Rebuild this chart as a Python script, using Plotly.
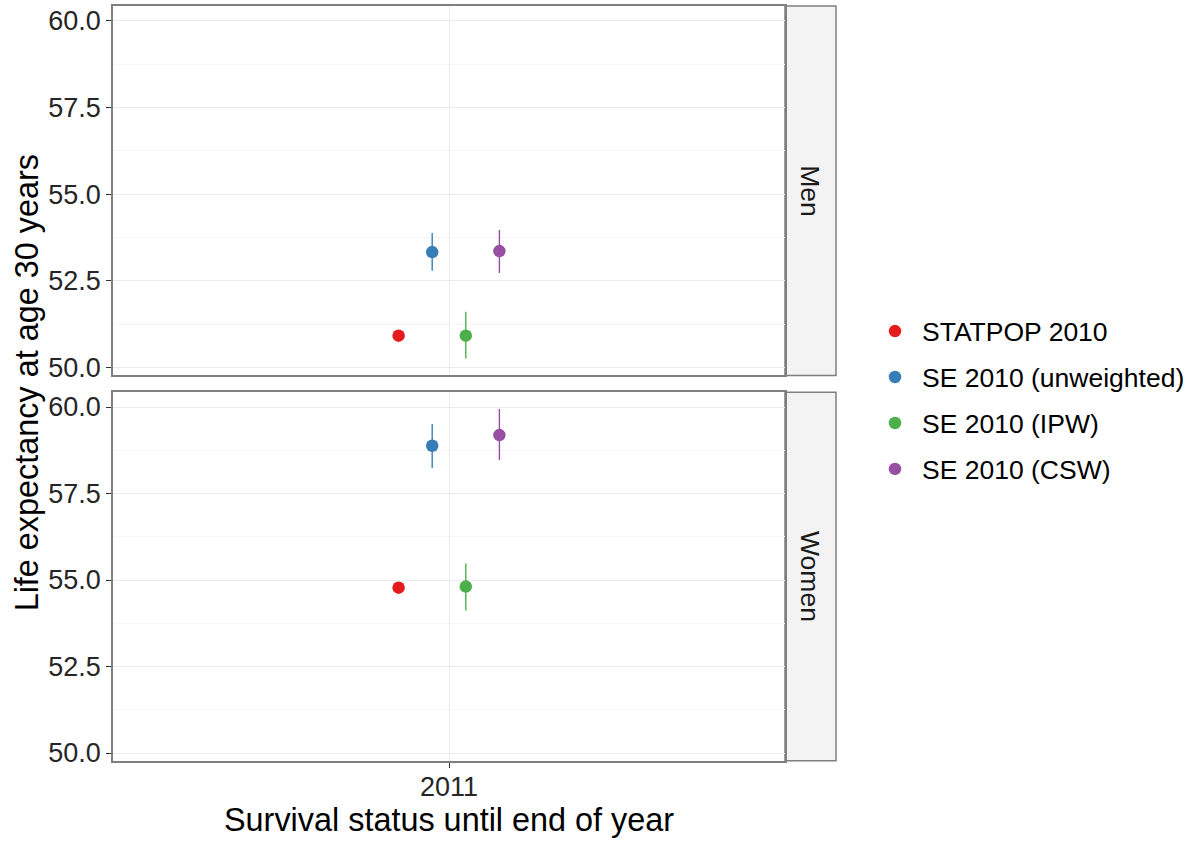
import plotly.graph_objects as go
from plotly.subplots import make_subplots

# ---- data ----
series = ["STATPOP 2010", "SE 2010 (unweighted)", "SE 2010 (IPW)", "SE 2010 (CSW)"]
colors = ["#E41A1C", "#377EB8", "#4DAF4A", "#984EA3"]
year = 2011
facets = ["Men", "Women"]

men_est = [50.92, 53.33, 50.92, 53.36]
men_lo = [50.92, 52.79, 50.26, 52.73]
men_hi = [50.92, 53.88, 51.61, 53.97]

women_est = [54.78, 58.88, 54.81, 59.19]
women_lo = [54.78, 58.24, 54.12, 58.47]
women_hi = [54.78, 59.51, 55.48, 59.94]

y_ticks = [50.0, 52.5, 55.0, 57.5, 60.0]

# ---- layout constants ----
W, H = 1196, 843
KY = 762 / 756  # vertical compensation observed in rendering
px_x = lambda p: p / W
px_y = lambda p: (H - p * KY) / H

panel_l, panel_r = 113, 785
strip_r = 836
top_t, top_b = 6, 376
bot_t, bot_b = 393, 762

font = "Liberation Sans, Arial, sans-serif"
tick_size = 27
legend_size = 26.5
title_size = 32.4

dodge_step = 0.06
n = len(series)
offsets = [(i - (n - 1) / 2) * dodge_step for i in range(n)]

all_vals = men_lo + men_hi + women_lo + women_hi
lo, hi = min(all_vals), max(all_vals)
pad = (hi - lo) * 0.05
y_range = [lo - pad, hi + pad]

fig = make_subplots(rows=2, cols=1, shared_xaxes=True)

data = {
    "Men": (men_est, men_lo, men_hi),
    "Women": (women_est, women_lo, women_hi),
}

for r, fac in enumerate(facets, start=1):
    est, lo_, hi_ = data[fac]
    for i, s in enumerate(series):
        fig.add_trace(
            go.Scatter(
                x=[year + offsets[i]],
                y=[est[i]],
                mode="markers",
                name=s,
                legendgroup=s,
                showlegend=(r == 1),
                marker=dict(color=colors[i], size=12.5),
                error_y=dict(
                    type="data",
                    symmetric=False,
                    array=[hi_[i] - est[i]],
                    arrayminus=[est[i] - lo_[i]],
                    color=colors[i],
                    thickness=1.4,
                    width=0,
                ),
                hoverinfo="skip",
            ),
            row=r,
            col=1,
        )

axis_common = dict(
    showline=True,
    mirror=True,
    linecolor="#7F7F7F",
    linewidth=1.5,
    gridcolor="#EBEBEB",
    gridwidth=1,
    zeroline=False,
    ticks="outside",
    ticklen=5,
    tickwidth=1.3,
    tickcolor="#333333",
    tickfont=dict(family=font, size=tick_size, color="#262626"),
)

for r in (1, 2):
    fig.update_yaxes(
        range=y_range,
        tickvals=y_ticks,
        tickformat=".1f",
        minor=dict(dtick=1.25, tick0=50, showgrid=True, gridcolor="#F5F5F5", gridwidth=1, ticks=""),
        **axis_common,
        row=r,
        col=1,
    )
    fig.update_xaxes(
        range=[year - 0.6, year + 0.6],
        tickvals=[year],
        ticktext=[str(year)],
        ticklabelstandoff=-4,
        **axis_common,
        row=r,
        col=1,
    )
fig.update_xaxes(showticklabels=False, ticks="", row=1, col=1)

fig.update_layout(
    xaxis=dict(domain=[px_x(panel_l), px_x(panel_r)]),
    xaxis2=dict(domain=[px_x(panel_l), px_x(panel_r)]),
    yaxis=dict(domain=[px_y(top_b), px_y(top_t)]),
    yaxis2=dict(domain=[px_y(bot_b), px_y(bot_t)]),
)

shapes = []
annotations = []
for fac, (t, b) in zip(facets, [(top_t, top_b), (bot_t, bot_b)]):
    shapes.append(
        dict(
            type="rect", xref="paper", yref="paper",
            x0=px_x(panel_r), x1=px_x(strip_r), y0=px_y(b), y1=px_y(t),
            fillcolor="#F3F3F3", line=dict(color="#7F7F7F", width=1.5), layer="below",
        )
    )
    annotations.append(
        dict(
            text=fac, xref="paper", yref="paper",
            x=px_x((panel_r + strip_r) / 2), y=px_y((t + b) / 2),
            showarrow=False, textangle=90,
            font=dict(family=font, size=legend_size, color="#1A1A1A"),
            xanchor="center", yanchor="middle",
        )
    )

annotations.append(
    dict(
        text="Life expectancy at age 30 years", xref="paper", yref="paper",
        x=px_x(27), y=px_y((top_t + bot_b) / 2), showarrow=False, textangle=-90,
        font=dict(family=font, size=title_size, color="#000000"),
        xanchor="center", yanchor="middle",
    )
)
annotations.append(
    dict(
        text="Survival status until end of year", xref="paper", yref="paper",
        x=px_x((panel_l + panel_r) / 2), y=px_y(821), showarrow=False,
        font=dict(family=font, size=title_size, color="#000000"),
        xanchor="center", yanchor="middle",
    )
)

fig.update_layout(
    width=W,
    height=H,
    margin=dict(l=0, r=0, t=0, b=0),
    paper_bgcolor="white",
    plot_bgcolor="white",
    shapes=shapes,
    annotations=annotations,
    legend=dict(
        x=px_x(868), y=px_y(401), xanchor="left", yanchor="middle",
        font=dict(family=font, size=legend_size, color="#000000"),
        tracegroupgap=8.5,
        itemwidth=44,
        bgcolor="rgba(0,0,0,0)",
    ),
)

fig.write_html(
    "out.html",
    config={"displayModeBar": False},
    post_script="document.body.style.margin='0';document.body.style.padding='0';",
)
